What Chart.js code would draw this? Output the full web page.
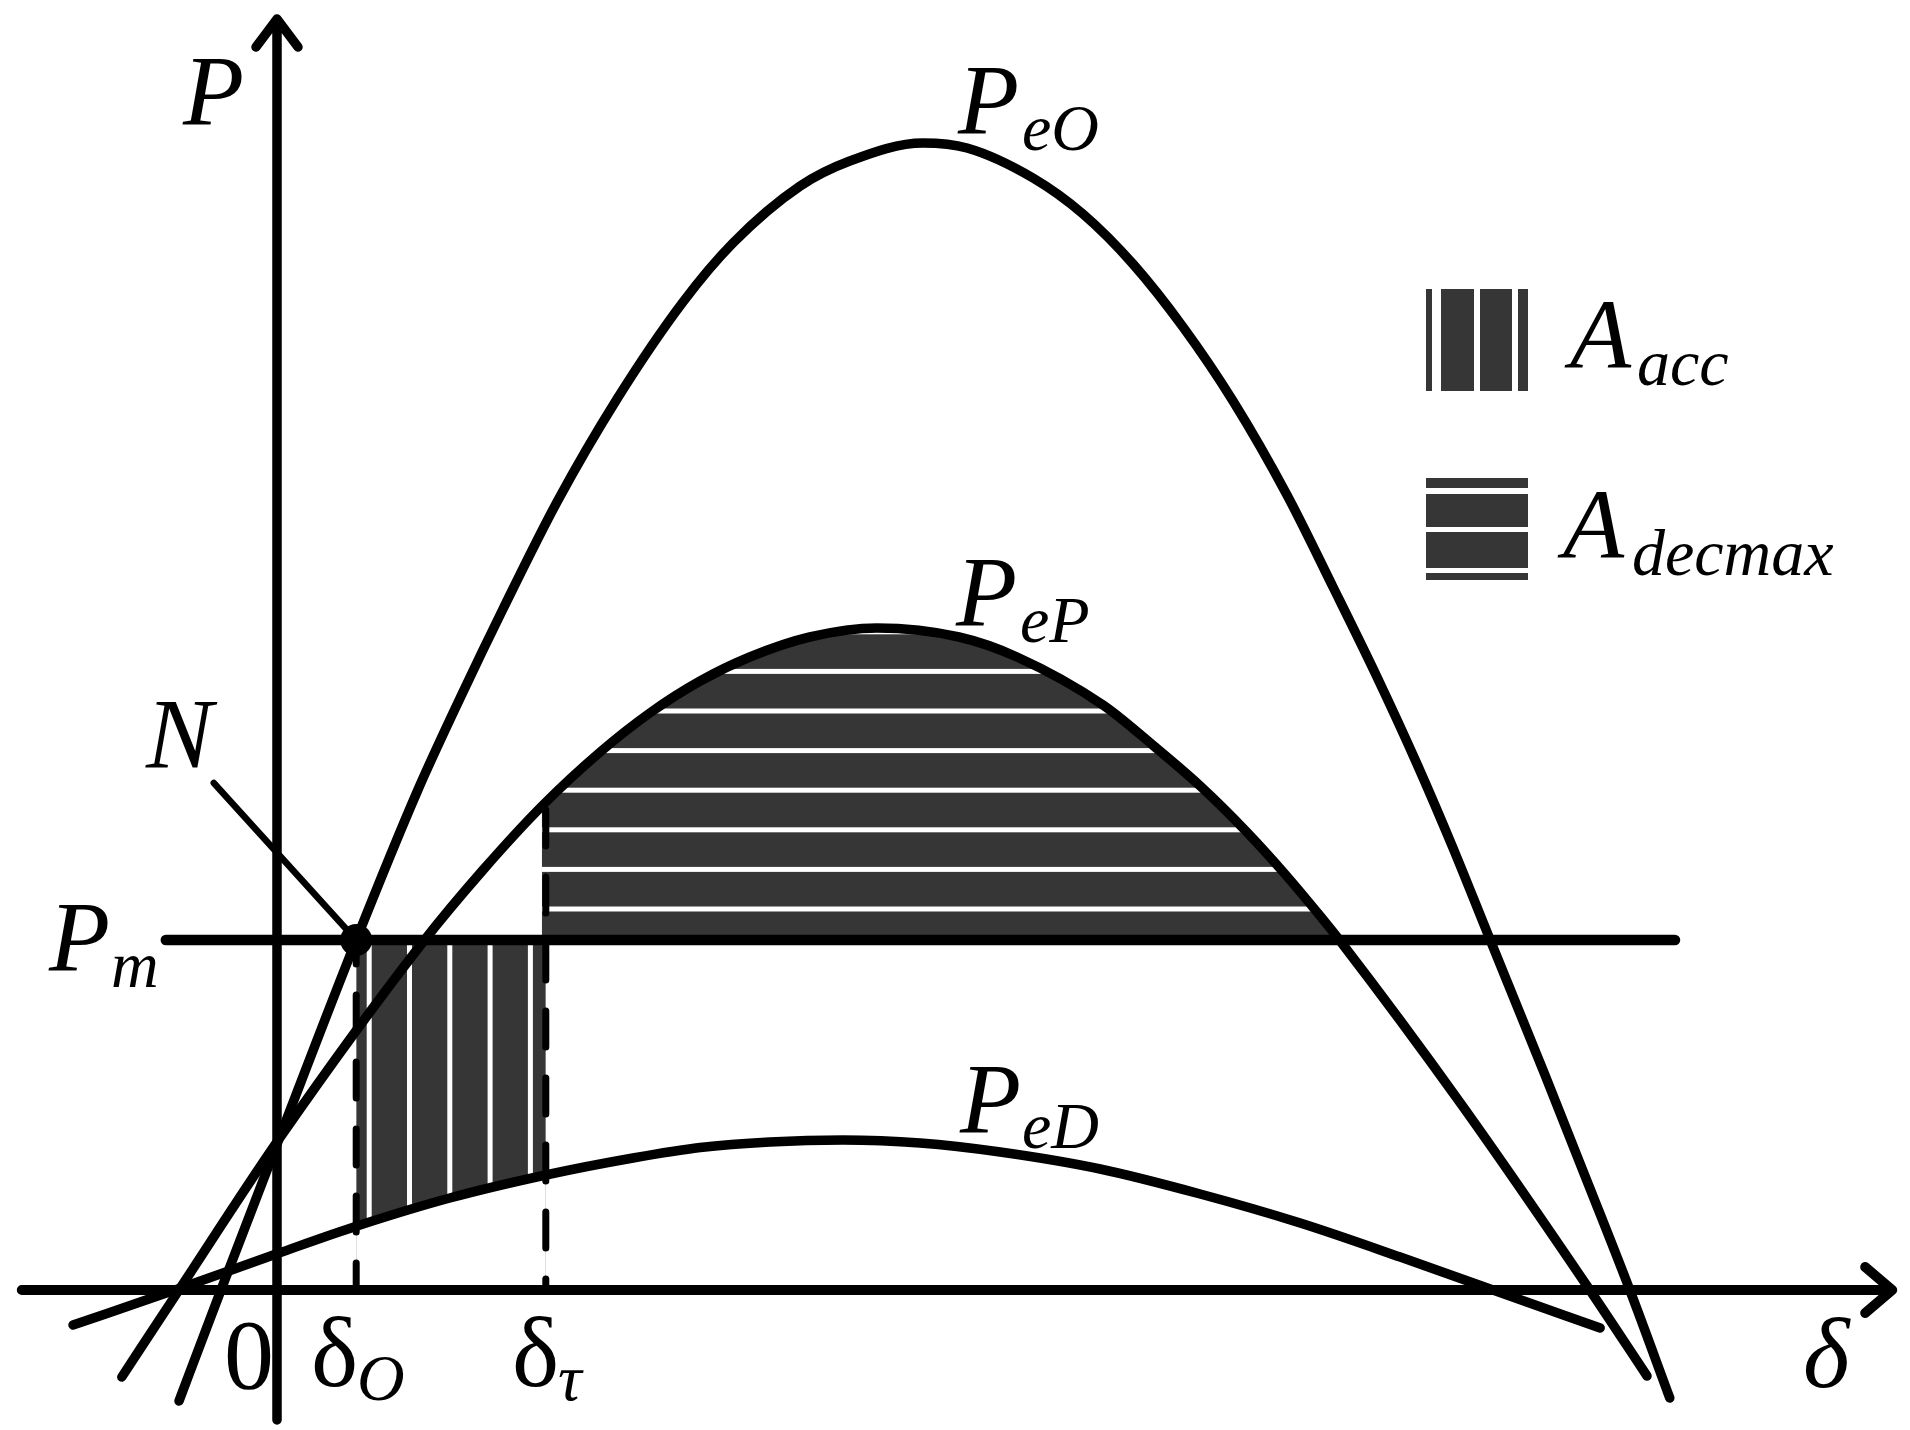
<!DOCTYPE html>
<html>
<head>
<meta charset="utf-8">
<title>P-δ power angle curves</title>
<script src="https://cdn.jsdelivr.net/npm/chart.js@4.4.1/dist/chart.umd.min.js"></script>
<style>
  html, body { margin: 0; padding: 0; background: #fff; }
  canvas { display: block; }
</style>
</head>
<body>
<canvas id="pdelta" width="1910" height="1430"></canvas>
<script>
// --- Data (δ in degrees, P in p.u.) ---
const peODelta = [-12.25, -7.0, 0.25, 9.9, 17.5, 23.25, 28.25, 35.0, 42.5, 50.75, 57.0, 65.4, 71.6, 80.75, 86.25, 94.5, 100.75, 107.0, 113.25, 119.5, 126.25, 132.0, 137.5, 142.5, 147.0, 151.5, 158.5, 164.1, 169.1, 174.1];
const peOPower = [-0.222, 0, 0.302, 0.70, 0.996, 1.196, 1.362, 1.576, 1.782, 1.976, 2.094, 2.208, 2.258, 2.294, 2.284, 2.224, 2.152, 2.052, 1.926, 1.778, 1.59, 1.406, 1.226, 1.052, 0.884, 0.706, 0.43, 0.204, 0, -0.216];

const pePDelta = [-19.4, -12.25, 0.25, 18.25, 25.75, 33.25, 40.4, 46.6, 52.9, 59.1, 66.6, 75.0, 85.25, 92.5, 103.25, 109.6, 115.4, 121.1, 126.1, 130.5, 132.9, 148.1, 164.1, 171.25];
const pePPower = [-0.174, 0, 0.302, 0.696, 0.84, 0.97, 1.076, 1.154, 1.218, 1.266, 1.306, 1.324, 1.306, 1.266, 1.17, 1.088, 1.008, 0.918, 0.83, 0.746, 0.698, 0.37, 0, -0.172];

const peDDelta = [-25.5, -12.75, 0.25, 10.0, 21.6, 33.6, 44.5, 52.9, 61.6, 70.75, 80.4, 90.4, 102.9, 115.4, 127.9, 140.4, 152.0, 165.4];
const peDPower = [-0.07, 0, 0.074, 0.128, 0.184, 0.23, 0.264, 0.285, 0.296, 0.30, 0.294, 0.276, 0.242, 0.192, 0.134, 0.066, 0, -0.076];

const pm = 0.70;                 // mechanical power level
const pmSpan = [-13.9, 174.75];  // extent of the P_m line
const deltaO = 9.9;              // δ_O
const deltaTau = 33.6;           // δ_τ
const deltaTauTop = 0.96;        // top of the δ_τ dashed line (on P_eP)
const nLeader = [[-7.9, 1.014], [9.9, 0.70]]; // N label pointer

const xAxisSpan = [-31.9, 201.9];
const yAxisSpan = [-0.26, 2.542];
const xRange = [-34.625, 204.125];
const yRange = [-0.28, 2.58];

// --- Styles ---
const ink = '#000';
const hatch = '#363636';
const serif = '"Liberation Serif", "Times New Roman", "DejaVu Serif", serif';

const toPoints = (xs, ys) => xs.map((x, i) => ({ x, y: ys[i] }));

function curve(xs, ys) {
    return {
        data: toPoints(xs, ys),
        borderColor: ink,
        borderWidth: 9.5,
        pointRadius: 0,
        cubicInterpolationMode: 'monotone',
        borderCapStyle: 'round',
        borderJoinStyle: 'round'
    };
}

function straight(points, width, dash, dashOffset) {
    return {
        data: points.map(p => ({ x: p[0], y: p[1] })),
        borderColor: ink,
        borderWidth: width,
        pointRadius: 0,
        tension: 0,
        borderCapStyle: 'round',
        borderDash: dash || [],
        borderDashOffset: dashOffset || 0
    };
}

// --- Hatched areas + axes (drawn under the curves) ---
function drawHatches(chart) {
    const { ctx, chartArea, scales: { x, y } } = chart;
    const pep = chart.getDatasetMeta(1).dataset;
    const ped = chart.getDatasetMeta(2).dataset;
    pep.updateControlPoints(chartArea, 'x');
    ped.updateControlPoints(chartArea, 'x');

    const xO = x.getPixelForValue(deltaO);
    const xT = x.getPixelForValue(deltaTau);
    const yPm = y.getPixelForValue(pm);
    const y0 = y.getPixelForValue(0);

    // A_acc : between P_eD and P_m, from δO to δτ (vertical stripes)
    ctx.save();
    ctx.beginPath();
    ctx.rect(xO, yPm, xT - xO, y0 - yPm);
    ped.path(ctx);
    ctx.closePath();
    ctx.clip('evenodd');
    ctx.fillStyle = hatch;
    ctx.fillRect(xO, yPm, xT - xO, y0 - yPm);
    ctx.fillStyle = '#fff';
    for (let sx = xO + 13; sx < xT - 8; sx += 40.3) {
        ctx.fillRect(sx - 2.5, yPm, 5, y0 - yPm);
    }
    ctx.restore();

    // A_decmax : between P_m and P_eP, right of δτ (horizontal stripes)
    ctx.save();
    ctx.beginPath();
    ctx.rect(xT - 4, 0, chartArea.right - xT + 4, yPm);
    ctx.clip();
    ctx.beginPath();
    pep.path(ctx);
    ctx.closePath();
    ctx.clip();
    ctx.fillStyle = hatch;
    ctx.fillRect(xT - 4, 0, chartArea.right, yPm);
    ctx.fillStyle = '#fff';
    for (let sy = yPm - 31; sy > 0; sy -= 39.6) {
        ctx.fillRect(xT - 4, sy - 2.5, chartArea.right, 5);
    }
    ctx.restore();
}

function drawAxes(chart) {
    const { ctx, scales: { x, y } } = chart;
    const ax0 = x.getPixelForValue(xAxisSpan[0]);
    const ax1 = x.getPixelForValue(xAxisSpan[1]);
    const ay = y.getPixelForValue(0);
    const vx = x.getPixelForValue(0);
    const vy0 = y.getPixelForValue(yAxisSpan[0]);
    const vy1 = y.getPixelForValue(yAxisSpan[1]);

    ctx.save();
    ctx.strokeStyle = ink;
    ctx.lineWidth = 10;
    ctx.lineCap = 'round';
    ctx.lineJoin = 'round';
    ctx.beginPath();
    ctx.moveTo(ax0, ay); ctx.lineTo(ax1, ay);
    ctx.moveTo(ax1 - 27, ay - 23); ctx.lineTo(ax1, ay); ctx.lineTo(ax1 - 27, ay + 23);
    ctx.stroke();
    ctx.lineWidth = 9.5;
    ctx.beginPath();
    ctx.moveTo(vx, vy0); ctx.lineTo(vx, vy1);
    ctx.moveTo(vx - 21, vy1 + 28); ctx.lineTo(vx, vy1); ctx.lineTo(vx + 21, vy1 + 28);
    ctx.stroke();
    ctx.restore();
}

// --- Labels and legend ---
const textMarks = [
    // text, x, baseline, size, italic
    ['P', 183, 124, 100, true],
    ['P', 958, 133, 100, true], ['eO', 1022, 150, 66, true],
    ['P', 956, 625, 100, true], ['eP', 1020, 642, 66, true],
    ['P', 960, 1132, 100, true], ['eD', 1022, 1148, 66, true],
    ['N', 146, 767, 100, true],
    ['P', 49, 970, 100, true], ['m', 111, 987, 66, true],
    ['0', 224, 1388, 100, false],
    ['δ', 311, 1386, 100, false], ['O', 357, 1400, 66, true],
    ['δ', 512, 1386, 100, false], ['τ', 558, 1400, 66, true],
    ['δ', 1803, 1387, 100, true],
    ['A', 1570, 368, 100, true], ['acc', 1637, 385, 66, true],
    ['A', 1563, 558, 100, true], ['decmax', 1632, 575, 66, true]
];

function drawLegend(ctx) {
    ctx.save();
    ctx.fillStyle = hatch;
    ctx.fillRect(1426, 289, 102, 102);
    ctx.fillRect(1426, 478, 102, 102);
    ctx.fillStyle = '#fff';
    ctx.fillRect(1432, 289, 9, 102);
    ctx.fillRect(1474, 289, 6, 102);
    ctx.fillRect(1512, 289, 6, 102);
    ctx.fillRect(1426, 488, 102, 6);
    ctx.fillRect(1426, 527, 102, 5);
    ctx.fillRect(1426, 568, 102, 5);
    ctx.restore();
}

function drawText(ctx) {
    ctx.save();
    ctx.fillStyle = ink;
    ctx.textBaseline = 'alphabetic';
    ctx.textAlign = 'left';
    textMarks.forEach(([s, tx, ty, size, italic]) => {
        ctx.font = (italic ? 'italic ' : '') + size + 'px ' + serif;
        ctx.fillText(s, tx, ty);
    });
    ctx.restore();
}

const sketchPlugin = {
    id: 'sketch',
    beforeDatasetsDraw(chart) {
        drawHatches(chart);
        drawAxes(chart);
    },
    afterDraw(chart) {
        drawLegend(chart.ctx);
        drawText(chart.ctx);
    }
};

new Chart(document.getElementById('pdelta'), {
    type: 'line',
    data: {
        datasets: [
            curve(peODelta, peOPower),
            curve(pePDelta, pePPower),
            curve(peDDelta, peDPower),
            straight([[pmSpan[0], pm], [pmSpan[1], pm]], 10.5),
            straight([[deltaO, pm], [deltaO, 0]], 7, [36, 31], 12),
            straight([[deltaTau, deltaTauTop], [deltaTau, 0]], 7, [36, 31], 0),
            straight(nLeader, 6.5),
            {
                data: [{ x: deltaO, y: pm }],
                showLine: false,
                pointRadius: 16,
                pointBackgroundColor: ink,
                pointBorderWidth: 0
            }
        ]
    },
    options: {
        responsive: false,
        animation: false,
        events: [],
        layout: { padding: 0, autoPadding: false },
        plugins: {
            legend: { display: false },
            tooltip: { enabled: false }
        },
        scales: {
            x: { type: 'linear', min: xRange[0], max: xRange[1], display: false },
            y: { type: 'linear', min: yRange[0], max: yRange[1], display: false }
        }
    },
    plugins: [sketchPlugin]
});
</script>
</body>
</html>
